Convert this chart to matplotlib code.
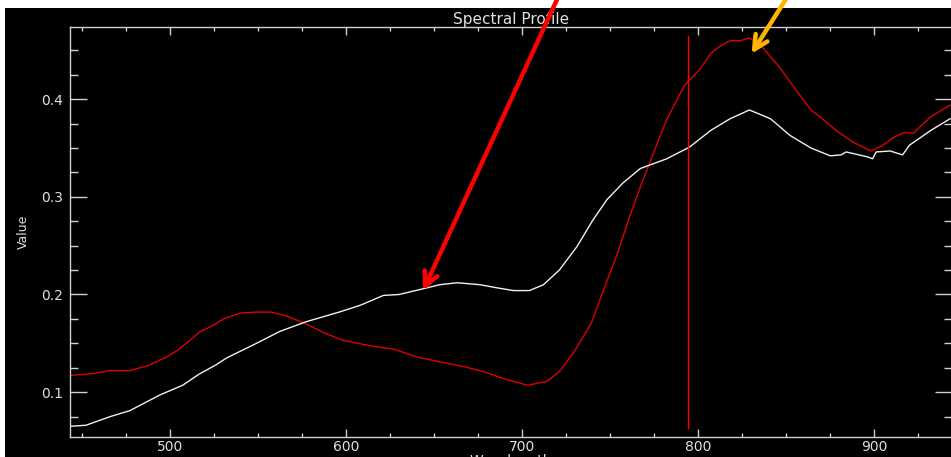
import numpy as np
from matplotlib import pyplot as plt
from matplotlib.patches import Rectangle

# Red spectrum
wl_red = [443, 456, 466, 477, 487, 498, 505, 517, 525, 530, 540, 549, 557, 566, 577,
          587, 598, 615, 627, 640, 653, 667, 678, 689, 703, 714, 721, 729, 739, 746,
          754, 761, 767, 773, 782, 792, 801, 807, 812, 818, 824, 829, 837, 846, 854,
          864, 871, 879, 888, 898, 905, 911, 917, 922, 932, 943]
val_red = [0.117, 0.119, 0.122, 0.122, 0.127, 0.136, 0.144, 0.162, 0.169, 0.175, 0.181,
           0.182, 0.182, 0.178, 0.170, 0.161, 0.153, 0.147, 0.144, 0.136, 0.131, 0.126,
           0.121, 0.114, 0.107, 0.111, 0.121, 0.140, 0.170, 0.204, 0.242, 0.280, 0.310,
           0.338, 0.379, 0.414, 0.431, 0.447, 0.454, 0.460, 0.460, 0.463, 0.452, 0.433,
           0.413, 0.389, 0.379, 0.367, 0.356, 0.347, 0.353, 0.361, 0.366, 0.365, 0.382,
           0.394]

# White spectrum
wl_white = [443, 452, 466, 477, 494, 507, 516, 526, 532, 549, 562, 577, 596, 608, 621,
            630, 644, 653, 663, 676, 685, 695, 704, 712, 721, 731, 740, 748, 757, 767,
            782, 795, 807, 818, 829, 841, 852, 864, 875, 881, 884, 896, 899, 901, 909,
            916, 920, 932, 943]
val_white = [0.065, 0.066, 0.075, 0.081, 0.097, 0.107, 0.118, 0.128, 0.135, 0.150, 0.162,
             0.172, 0.182, 0.189, 0.199, 0.200, 0.206, 0.210, 0.212, 0.210, 0.207, 0.204,
             0.204, 0.210, 0.225, 0.249, 0.276, 0.297, 0.314, 0.329, 0.339, 0.351, 0.368,
             0.380, 0.389, 0.380, 0.363, 0.350, 0.342, 0.343, 0.346, 0.341, 0.339, 0.346,
             0.347, 0.343, 0.353, 0.368, 0.380]

marker_wl = 794
xticks = [500, 600, 700, 800, 900]
yticks = [0.1, 0.2, 0.3, 0.4]

W, H = 951, 457
fig = plt.figure(figsize=(W / 100, H / 100), dpi=100, facecolor='white')
# black window with thin white border at top/left
fig.patches.append(Rectangle((5 / W, 0), 946 / W, 449 / H, transform=fig.transFigure,
                             facecolor='black', edgecolor='none', zorder=-10))

ax = fig.add_axes([70 / W, 20 / H, 882 / W, 410 / H])
ax.set_facecolor('black')

ax.plot(wl_red, val_red, color='#dd0000', lw=1)
ax.plot(wl_white, val_white, color='#f0f0f0', lw=1)
ax.axvline(marker_wl, ymin=0.022, ymax=0.978, color='#ff0000', lw=1)

ax.set_xlim(443, 944.1)
ax.set_ylim(0.054, 0.474)
ax.set_xticks(xticks)
ax.set_xticks(np.arange(450, 950, 25), minor=True)
ax.set_yticks(yticks)
ax.set_yticklabels(['0.1', '0.2', '0.3', '0.4'])
ax.set_yticks(np.arange(0.075, 0.475, 0.025), minor=True)

grey = '#d0d0d0'
for s in ax.spines.values():
    s.set_color(grey)
    s.set_linewidth(1)
ax.spines['right'].set_visible(False)
ax.tick_params(axis='both', which='both', direction='in', colors=grey,
               labelcolor='#e0e0e0', labelsize=10, width=1,
               top=True, right=True)
ax.tick_params(axis='y', which='major', length=12, pad=5)
ax.tick_params(axis='y', which='minor', length=6)
ax.tick_params(axis='x', which='major', length=6, pad=2)
ax.tick_params(axis='x', which='minor', length=3)

ax.set_title('Spectral Profile', color='#e0e0e0', fontsize=11, pad=1)
ax.set_xlabel('Wavelength', color='#e0e0e0', fontsize=10, labelpad=0)
ax.set_ylabel('Value', color='#e0e0e0', fontsize=9, labelpad=8)

# hand-drawn style arrows
ax.annotate('', xy=(422, H - 293), xycoords='figure pixels',
            xytext=(566, H + 20), textcoords='figure pixels',
            arrowprops=dict(arrowstyle='->,head_length=1.0,head_width=0.5',
                            color='#ff0000', lw=3.2),
            annotation_clip=False, zorder=10)
ax.annotate('', xy=(750, H - 56), xycoords='figure pixels',
            xytext=(798, H + 20), textcoords='figure pixels',
            arrowprops=dict(arrowstyle='->,head_length=1.0,head_width=0.5',
                            color='#ffb400', lw=3.2),
            annotation_clip=False, zorder=10)

plt.savefig('out.png', dpi=100, facecolor=fig.get_facecolor())
